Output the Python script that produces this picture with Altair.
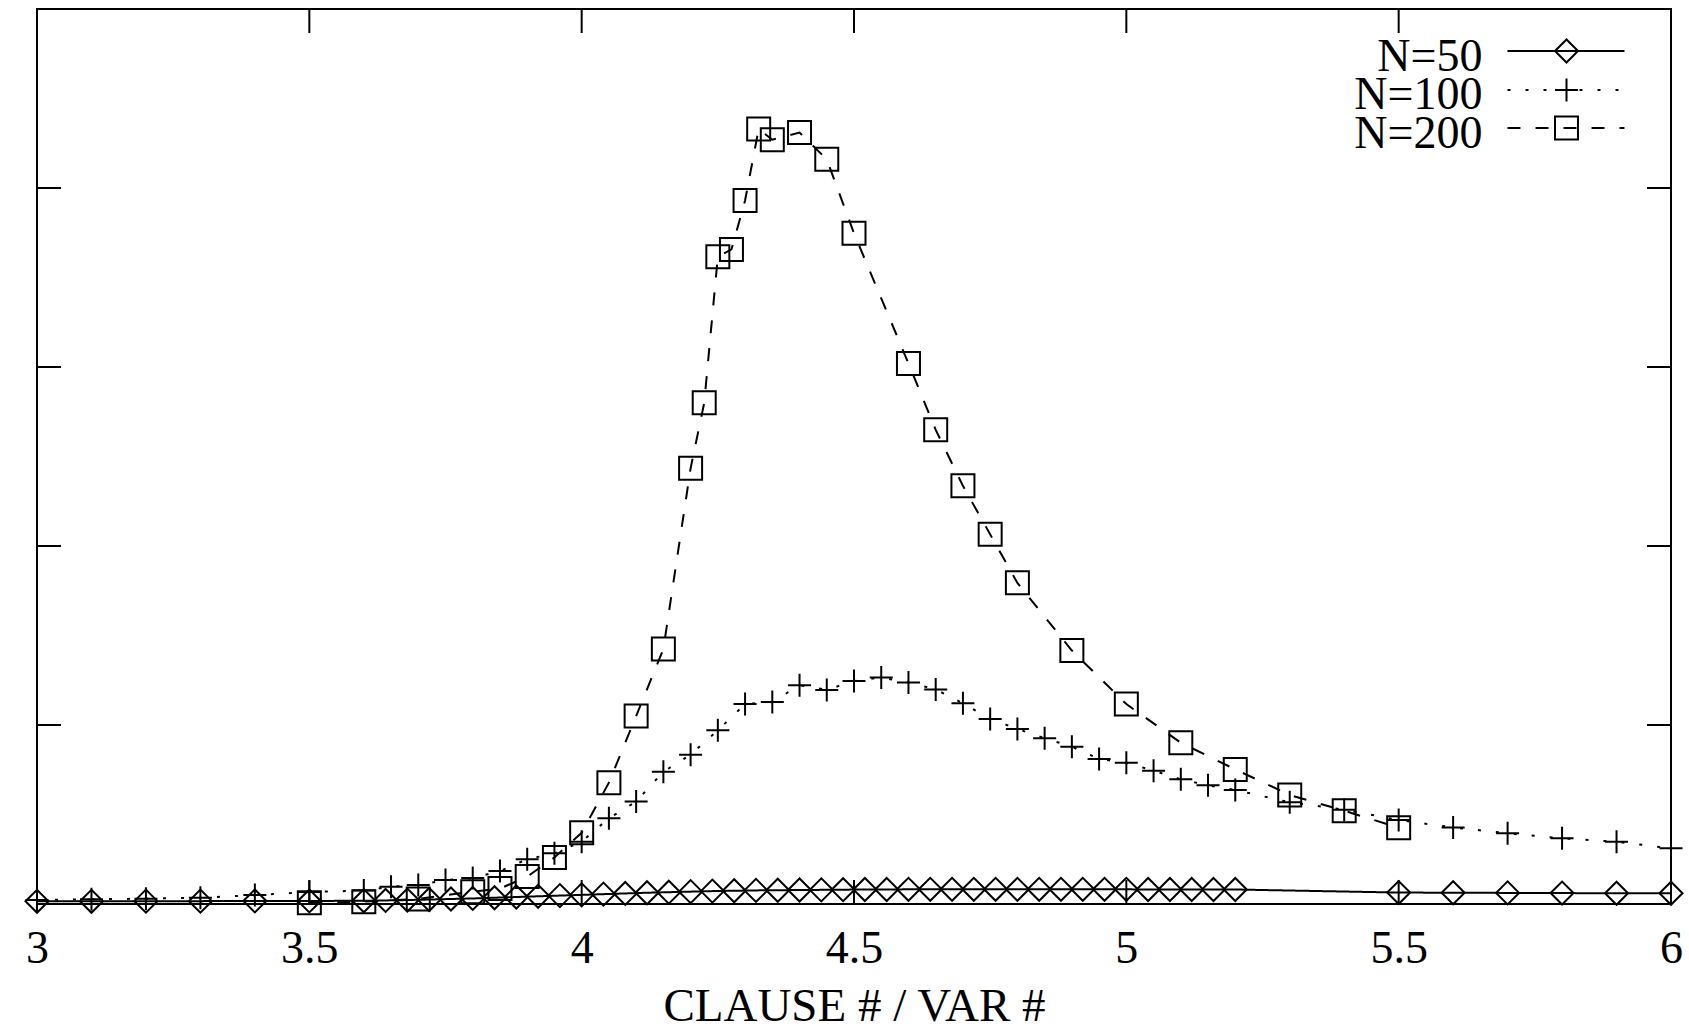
import altair as alt
import pandas as pd

# ---------------- data ----------------
x50 = [3.0, 3.1, 3.2, 3.3, 3.4, 3.5,
       3.60, 3.64, 3.68, 3.72, 3.76, 3.80, 3.84, 3.88, 3.92, 3.96,
       4.00, 4.04, 4.08, 4.12, 4.16, 4.20, 4.24, 4.28, 4.32, 4.36,
       4.40, 4.44, 4.48, 4.52, 4.56, 4.60, 4.64, 4.68, 4.72, 4.76,
       4.80, 4.84, 4.88, 4.92, 4.96, 5.00, 5.04, 5.08, 5.12, 5.16, 5.20,
       5.5, 5.6, 5.7, 5.8, 5.9, 6.0]
y50 = [0.015, 0.015, 0.016, 0.016, 0.017, 0.017,
       0.018, 0.020, 0.022, 0.025, 0.028, 0.031, 0.035, 0.039, 0.043, 0.047,
       0.051, 0.055, 0.059, 0.063, 0.066, 0.069, 0.072, 0.074, 0.076, 0.077,
       0.078, 0.079, 0.080, 0.081, 0.081, 0.082, 0.082, 0.082, 0.082, 0.082,
       0.082, 0.082, 0.082, 0.082, 0.082, 0.082, 0.081, 0.081, 0.081, 0.081, 0.081,
       0.064, 0.063, 0.062, 0.061, 0.060, 0.060]

x100 = [3.0, 3.1, 3.2, 3.3, 3.4, 3.5, 3.6, 3.65, 3.7, 3.75, 3.8, 3.85, 3.9, 3.95,
        4.0, 4.05, 4.1, 4.15, 4.2, 4.25, 4.3, 4.35, 4.4, 4.45, 4.5, 4.55, 4.6,
        4.65, 4.7, 4.75, 4.8, 4.85, 4.9, 4.95, 5.0, 5.05, 5.1, 5.15, 5.2,
        5.3, 5.4, 5.5, 5.6, 5.7, 5.8, 5.9, 6.0]
y100 = [0.022, 0.026, 0.030, 0.035, 0.050, 0.067, 0.075, 0.097, 0.106, 0.134, 0.145, 0.184, 0.250, 0.283,
        0.348, 0.479, 0.572, 0.739, 0.834, 0.970, 1.117, 1.128, 1.222, 1.196, 1.246, 1.266, 1.237,
        1.199, 1.121, 1.034, 0.978, 0.926, 0.879, 0.810, 0.789, 0.745, 0.697, 0.663, 0.637,
        0.568, 0.527, 0.469, 0.428, 0.395, 0.367, 0.348, 0.311]

x200 = [3.5, 3.6, 3.7, 3.8, 3.85, 3.9, 3.95, 4.0, 4.05, 4.1, 4.15, 4.2, 4.225, 4.25,
        4.275, 4.3, 4.325, 4.35, 4.4, 4.45, 4.5, 4.6, 4.65, 4.7, 4.75, 4.8, 4.9,
        5.0, 5.1, 5.2, 5.3, 5.4, 5.5]
y200 = [0.007, 0.013, 0.028, 0.069, 0.086, 0.153, 0.260, 0.398, 0.678, 1.050, 1.425, 2.434, 2.800, 3.616,
        3.657, 3.930, 4.330, 4.270, 4.310, 4.160, 3.747, 3.020, 2.649, 2.336, 2.065, 1.794, 1.416,
        1.117, 0.901, 0.752, 0.609, 0.521, 0.426]

series_names = ["N=50", "N=100", "N=200"]
x_tick_values = [3, 3.5, 4, 4.5, 5, 5.5, 6]
inner_x_ticks = [3.5, 4, 4.5, 5, 5.5]
inner_y_ticks = [1, 2, 3, 4]

# ---------------- layout / style ----------------
W, H = 1634, 895
FONT = "Liberation Serif"
PLUS = "M-1,0L1,0M0,-1L0,1"
MSIZE = 529
styles = [
    dict(shape="diamond", dash=[1, 0]),
    dict(shape=PLUS, dash=[3, 15]),
    dict(shape="square", dash=[13, 15]),
]

xscale = alt.Scale(domain=[3, 6], nice=False, zero=False)
yscale = alt.Scale(domain=[0, 5], nice=False, zero=False)
xaxis = alt.Axis(
    values=x_tick_values, format="~g", ticks=False, tickSize=0, domain=False, grid=False,
    labelFont=FONT, labelFontSize=46, labelColor="black", labelBaseline="alphabetic",
    labelPadding=58, labelFlush=False, labelOverlap=False,
    title="CLAUSE # / VAR #", titleFont=FONT, titleFontSize=47, titleFontWeight="normal",
    titleColor="black", titleBaseline="alphabetic", titleY=116,
)


def X(field="x"):
    return alt.X(f"{field}:Q", scale=xscale, axis=xaxis)


def Y(field="y"):
    return alt.Y(f"{field}:Q", scale=yscale, axis=None)


layers = []
for xs, ys, st in zip([x50, x100, x200], [y50, y100, y200], styles):
    df = pd.DataFrame({"x": xs, "y": ys})
    base = alt.Chart(df)
    layers.append(base.mark_line(color="black", strokeWidth=2, strokeDash=st["dash"]).encode(x=X(), y=Y()))
    layers.append(base.mark_point(shape=st["shape"], size=MSIZE, filled=False, color="black",
                                  strokeWidth=2, opacity=1).encode(x=X(), y=Y()))

# inward ticks (gnuplot style, mirrored on all sides)
xt = alt.Chart(pd.DataFrame({"x": inner_x_ticks}))
yt = alt.Chart(pd.DataFrame({"y": inner_y_ticks}))
layers.append(xt.mark_rule(color="black", strokeWidth=2).encode(x=X(), y=alt.value(H), y2=alt.value(H - 24)))
layers.append(xt.mark_rule(color="black", strokeWidth=2).encode(x=X(), y=alt.value(0), y2=alt.value(24)))
layers.append(yt.mark_rule(color="black", strokeWidth=2).encode(y=Y(), x=alt.value(0), x2=alt.value(24)))
layers.append(yt.mark_rule(color="black", strokeWidth=2).encode(y=Y(), x=alt.value(W), x2=alt.value(W - 24)))

# legend (labels left, samples right)
text_y = [61.7, 100.3, 139.3]
line_y = [42, 81, 119]
for name, st, ty, ly in zip(series_names, styles, text_y, line_y):
    ldf = alt.Chart(pd.DataFrame({"label": [name]}))
    layers.append(ldf.mark_text(align="right", baseline="alphabetic", font=FONT, fontSize=46,
                                color="black").encode(x=alt.value(1445.5), y=alt.value(ty), text="label:N"))
    layers.append(ldf.mark_rule(color="black", strokeWidth=2, strokeDash=st["dash"]).encode(
        x=alt.value(1470.5), x2=alt.value(1587.5), y=alt.value(ly)))
    layers.append(ldf.mark_point(shape=st["shape"], size=MSIZE, filled=False, color="black",
                                 strokeWidth=2, opacity=1).encode(x=alt.value(1529.5), y=alt.value(ly)))

chart = alt.layer(*layers).properties(
    width=W, height=H,
    padding={"left": 37, "top": 9, "right": 18, "bottom": 125},
    autosize=alt.AutoSizeParams(type="none"),
    background="white",
).configure_view(stroke="black", strokeWidth=2)

chart.save("out.html", embed_options={"renderer": "svg", "actions": False})
